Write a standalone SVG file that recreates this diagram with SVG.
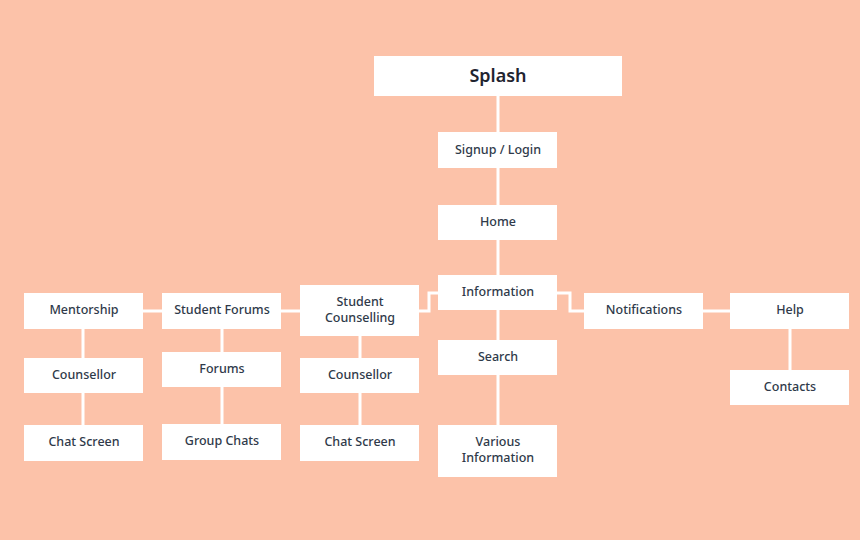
<svg xmlns="http://www.w3.org/2000/svg" width="860" height="540" viewBox="0 0 860 540">
<style>
.b{fill:#ffffff}
.t{font-family:"Noto Sans","Open Sans",sans-serif;font-size:12.5px;font-weight:500;fill:#2f3a4a;text-anchor:middle}
.big{font-size:18px;font-weight:600;fill:#1f2430}
.c{fill:none;stroke:#ffffff;stroke-width:3}
</style>
<rect width="860" height="540" fill="#fcc2a9"/>
<g id="connectors">
<path class="c" d="M498 96V132M498 168V205M498 240V275M498 310V340M498 375V425"/>
<path class="c" d="M438 293H429V311H419"/>
<path class="c" d="M557 293H570V311H584"/>
<path class="c" d="M143 311H162M281 311H300M703 311H730"/>
<path class="c" d="M83 329V358M83 393V425M222 329V352M222 387V424M360 336V358M360 393V425M790 329V370"/>
</g>
<g id="splash"><rect class="b" x="374" y="56" width="248" height="40"/><text class="t big" x="498" y="82">Splash</text></g>
<g id="signup"><rect class="b" x="438" y="132" width="119" height="36"/><text class="t" x="498" y="154">Signup / Login</text></g>
<g id="home"><rect class="b" x="438" y="205" width="119" height="35"/><text class="t" x="498" y="226">Home</text></g>
<g id="information"><rect class="b" x="438" y="275" width="119" height="35"/><text class="t" x="498" y="296">Information</text></g>
<g id="search"><rect class="b" x="438" y="340" width="119" height="35"/><text class="t" x="498" y="361">Search</text></g>
<g id="various"><rect class="b" x="438" y="425" width="119" height="52"/><text class="t" x="498" y="446">Various</text><text class="t" x="498" y="462">Information</text></g>
<g id="student-counselling"><rect class="b" x="300" y="285" width="119" height="51"/><text class="t" x="360" y="306">Student</text><text class="t" x="360" y="322">Counselling</text></g>
<g id="counsellor-mid"><rect class="b" x="300" y="358" width="119" height="35"/><text class="t" x="360" y="379">Counsellor</text></g>
<g id="chat-mid"><rect class="b" x="300" y="425" width="119" height="36"/><text class="t" x="360" y="446">Chat Screen</text></g>
<g id="student-forums"><rect class="b" x="162" y="293" width="119" height="36"/><text class="t" x="222" y="314">Student Forums</text></g>
<g id="forums"><rect class="b" x="162" y="352" width="119" height="35"/><text class="t" x="222" y="373">Forums</text></g>
<g id="group-chats"><rect class="b" x="162" y="424" width="119" height="36"/><text class="t" x="222" y="445">Group Chats</text></g>
<g id="mentorship"><rect class="b" x="24" y="293" width="119" height="36"/><text class="t" x="84" y="314">Mentorship</text></g>
<g id="counsellor-left"><rect class="b" x="24" y="358" width="119" height="35"/><text class="t" x="84" y="379">Counsellor</text></g>
<g id="chat-left"><rect class="b" x="24" y="425" width="119" height="36"/><text class="t" x="84" y="446">Chat Screen</text></g>
<g id="notifications"><rect class="b" x="584" y="293" width="119" height="36"/><text class="t" x="644" y="314">Notifications</text></g>
<g id="help"><rect class="b" x="730" y="293" width="119" height="36"/><text class="t" x="790" y="314">Help</text></g>
<g id="contacts"><rect class="b" x="730" y="370" width="119" height="35"/><text class="t" x="790" y="391">Contacts</text></g>
</svg>
